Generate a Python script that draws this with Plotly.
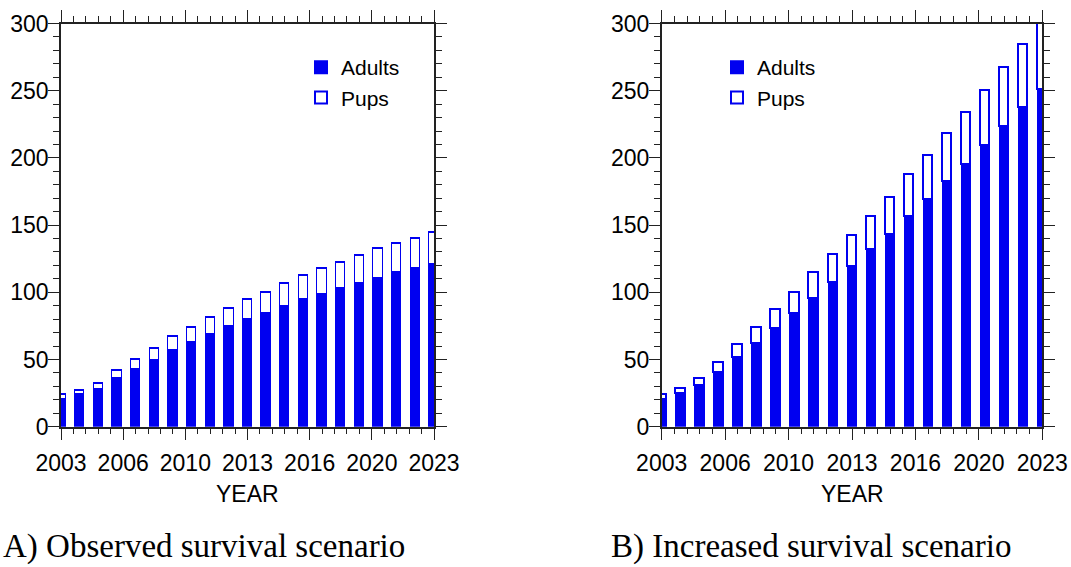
import plotly.graph_objects as go
from plotly.subplots import make_subplots

years = list(range(2003, 2024))
year_tick_labels = ["2003", "2006", "2010", "2013", "2016", "2020", "2023"]

# Panel A: observed survival
adults_a = [20.4, 23.6, 27.6, 35.6, 42.3, 49.5, 56.5, 62.4, 68.4, 74.4, 79.6,
            84.6, 89.6, 94.5, 98.5, 102.5, 106.5, 110.4, 114.7, 117.7, 120.6]
total_a = [24.1, 27.1, 32.1, 42.0, 50.0, 58.2, 67.2, 74.1, 81.1, 88.1, 94.3,
           100.2, 106.2, 112.2, 117.4, 122.4, 127.4, 132.3, 136.3, 140.3, 144.3]

# Panel B: increased survival
adults_b = [20.4, 24.4, 30.3, 40.3, 51.2, 62.2, 73.4, 84.6, 95.5, 107.5, 119.4,
            131.6, 143.3, 156.2, 169.2, 182.3, 195.3, 209.2, 223.4, 237.3, 251.2]
total_b = [24.1, 28.1, 36.1, 48.0, 61.2, 74.1, 87.1, 100.0, 114.9, 128.1, 142.0,
           156.7, 170.9, 187.3, 202.0, 217.9, 234.1, 250.0, 266.9, 284.3, 301.0]

pups_a = [t - a for t, a in zip(total_a, adults_a)]
pups_b = [t - a for t, a in zip(total_b, adults_b)]

BLUE = "#0000f0"
AX = "#222222"

W, H = 1071, 567

def px(x):
    return x / W

def py(y):
    return 1 - y / H

fig = make_subplots(rows=1, cols=2)

def add_panel(col, adults, pups, legend):
    fig.add_trace(go.Bar(x=years, y=adults, name="Adults", width=0.5,
                         marker=dict(color=BLUE, line=dict(color=BLUE, width=1)),
                         legend=legend), row=1, col=col)
    fig.add_trace(go.Bar(x=years, y=pups, name="Pups", width=0.5,
                         marker=dict(color="white", line=dict(color=BLUE, width=1.3)),
                         legend=legend), row=1, col=col)

add_panel(1, adults_a, pups_a, "legend")
add_panel(2, adults_b, pups_b, "legend2")

major_x = [2003 + k * 20 / 6 for k in range(7)]
minor_x = [2003 + k * 20 / 30 for k in range(31)]

tickfont = dict(family="Liberation Sans, Arial, sans-serif", size=23, color="black")

for ax_name, dom in (("xaxis", [px(61), px(434)]), ("xaxis2", [px(661.7), px(1042.3)])):
    fig.layout[ax_name].update(
        domain=dom, range=[2003, 2023], tickmode="array", tickvals=major_x,
        ticktext=year_tick_labels, ticks="outside", ticklen=12, tickwidth=1.2,
        tickcolor=AX, showline=True, linecolor=AX, linewidth=1.5, mirror="ticks",
        showgrid=False, zeroline=False, tickfont=tickfont, automargin=False,
        ticklabelstandoff=3,
        minor=dict(tickmode="array", tickvals=minor_x, ticks="outside", ticklen=6,
                   tickwidth=1, tickcolor=AX, showgrid=False),
    )

for ax_name in ("yaxis", "yaxis2"):
    fig.layout[ax_name].update(
        domain=[py(426.7), py(23.5)], range=[0, 300], tickmode="linear", tick0=0, dtick=50,
        ticks="outside", ticklen=11, tickwidth=1.2, tickcolor=AX, showline=True,
        linecolor=AX, linewidth=1.5, mirror="ticks", showgrid=False, zeroline=False,
        tickfont=tickfont, automargin=False, ticklabelstandoff=-5,
        minor=dict(dtick=10, ticks="outside", ticklen=6, tickwidth=1, tickcolor=AX,
                   showgrid=False),
    )

legfont = dict(family="Liberation Sans, Arial, sans-serif", size=21, color="black")
fig.update_layout(
    barmode="stack",
    width=W, height=H,
    margin=dict(l=0, r=0, t=0, b=0, autoexpand=False),
    paper_bgcolor="white", plot_bgcolor="white",
    bargap=0,
    legend=dict(x=px(301), y=py(47), xanchor="left", yanchor="top",
                bgcolor="rgba(0,0,0,0)", font=legfont, tracegroupgap=0,
                traceorder="normal", itemsizing="constant"),
    legend2=dict(x=px(717), y=py(47), xanchor="left", yanchor="top",
                 bgcolor="rgba(0,0,0,0)", font=legfont, tracegroupgap=0,
                 traceorder="normal", itemsizing="constant"),
    showlegend=True,
)

yearfont = dict(family="Liberation Sans, Arial, sans-serif", size=23, color="black")
capfont = dict(family="Liberation Serif, Times New Roman, serif", size=33, color="black")
annotations = [
    dict(text="YEAR", x=px(247.5), y=py(494), xref="paper", yref="paper",
         showarrow=False, font=yearfont, xanchor="center", yanchor="middle"),
    dict(text="YEAR", x=px(853), y=py(494), xref="paper", yref="paper",
         showarrow=False, font=yearfont, xanchor="center", yanchor="middle"),
    dict(text="A) Observed survival scenario", x=px(1), y=py(546),
         xref="paper", yref="paper", showarrow=False, font=capfont,
         xanchor="left", yanchor="middle"),
    dict(text="B) Increased survival scenario", x=px(609), y=py(546),
         xref="paper", yref="paper", showarrow=False, font=capfont,
         xanchor="left", yanchor="middle"),
]
fig.update_layout(annotations=annotations)

fig.write_html(
    "out.html",
    config={"displayModeBar": False},
    post_script="document.body.style.margin='0';document.body.style.overflow='hidden';",
)
